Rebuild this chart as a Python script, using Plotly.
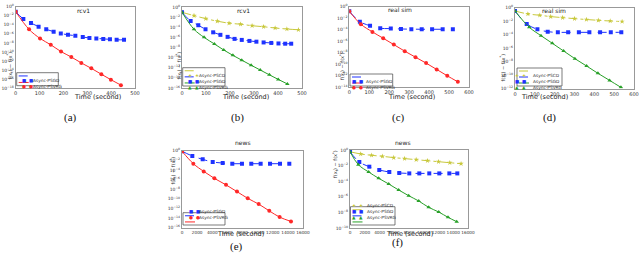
import plotly.graph_objects as go

W, H = 640, 261

# ---------------- data (log10 of objective gap) ----------------
# (a) rcv1
a_gd_t = [0, 32, 64, 96, 128, 159, 189, 219, 250, 281, 309, 338, 367, 395, 423, 454]
a_gd_y = [-1.1, -2.7, -3.6, -4.4, -5.0, -5.5, -5.9, -6.2, -6.4, -6.7, -6.9, -7.0, -7.1, -7.2, -7.3, -7.3]
a_vr_t = [0, 56, 102, 147, 190, 233, 275, 317, 359, 399, 441]
a_vr_y = [-1.1, -5.0, -7.0, -8.4, -9.9, -11.1, -12.4, -13.6, -14.9, -16.1, -17.3]
# (b) rcv1
b_cd_t = [0, 50, 99, 147, 196, 244, 292, 340, 388, 437, 485]
b_cd_y = [-1.05, -1.7, -2.3, -2.8, -3.2, -3.4, -3.7, -3.9, -4.15, -4.35, -4.5]
b_gd_t = [0, 36, 68, 98, 130, 160, 190, 219, 249, 281, 310, 340, 372, 402, 430, 455]
b_gd_y = [-1.05, -2.77, -3.6, -4.4, -5.0, -5.5, -5.9, -6.3, -6.5, -6.7, -6.85, -7.0, -7.1, -7.2, -7.25, -7.25]
b_vr_t = [0, 50, 92, 135, 174, 212, 249, 288, 326, 364, 401, 439]
b_vr_y = [-1.05, -4.4, -6.0, -7.3, -8.5, -9.55, -10.5, -11.5, -12.45, -13.4, -14.3, -15.2]
# (c) real sim
c_gd_t = [0, 53, 104, 155, 208, 259, 311, 363, 415, 468, 519]
c_gd_y = [-0.8, -2.6, -3.3, -3.75, -3.8, -3.87, -3.9, -3.92, -3.92, -3.92, -3.92]
c_vr_t = [0, 58, 116, 170, 223, 278, 332, 385, 438, 491, 544]
c_vr_y = [-0.8, -3.05, -4.38, -5.48, -6.58, -7.73, -8.77, -9.8, -10.9, -12.0, -13.05]
# (d) real sim
d_cd_t = [0, 65, 125, 180, 240, 300, 360, 420, 480, 540]
d_cd_y = [-0.52, -0.96, -1.15, -1.35, -1.5, -1.65, -1.78, -1.9, -2.0, -2.08]
d_gd_t = [0, 59, 113, 165, 216, 268, 322, 375, 429, 483, 536]
d_gd_y = [-0.52, -2.44, -3.23, -3.58, -3.68, -3.68, -3.68, -3.68, -3.68, -3.68, -3.68]
d_vr_t = [0, 72, 131, 188, 245, 302, 361, 418, 477, 534]
d_vr_y = [-0.52, -2.93, -4.17, -5.3, -6.44, -7.58, -8.67, -9.75, -10.8, -11.83]
# (e) news
e_gd_t = [0, 1365, 2735, 4060, 5380, 6650, 7930, 9160, 10400, 11640, 12960, 14190]
e_gd_y = [-0.1, -1.1, -1.8, -2.35, -2.56, -2.7, -2.7, -2.7, -2.7, -2.7, -2.7, -2.7]
e_vr_t = [0, 1500, 2870, 4280, 5820, 7270, 8690, 10140, 11540, 12910, 14410]
e_vr_y = [-0.1, -2.7, -4.3, -5.75, -7.1, -8.5, -9.9, -11.1, -12.5, -13.8, -14.7]
# (f) news
f_cd_t = [0, 1450, 2930, 4400, 5930, 7400, 8970, 10500, 12000, 13530, 15060]
f_cd_y = [-0.22, -0.51, -0.68, -0.81, -0.98, -1.1, -1.24, -1.37, -1.5, -1.63, -1.76]
f_gd_t = [0, 1265, 2620, 3970, 5330, 6680, 8040, 9400, 10750, 12110, 13470, 14550]
f_gd_y = [-0.22, -1.54, -2.14, -2.56, -2.82, -2.95, -3.0, -3.0, -3.0, -3.0, -3.0, -3.0]
f_vr_t = [0, 1130, 2530, 3890, 5250, 6600, 7960, 9320, 10670, 12030, 13290, 14470]
f_vr_y = [-0.22, -1.88, -2.82, -3.63, -4.36, -5.13, -5.86, -6.54, -7.35, -7.95, -8.63, -9.19]

names = {"cd": "Async-PSCD", "gd": "Async-PSGD", "vr": "Async-PSVRG"}
panel_titles = ["rcv1", "rcv1", "real sim", "real sim", "news", "news"]
panel_labels = ["(a)", "(b)", "(c)", "(d)", "(e)", "(f)"]
x_ranges = [[0, 500], [0, 500], [0, 600], [0, 600], [0, 16000], [0, 16000]]
x_dticks = [100, 100, 100, 100, 2000, 2000]
x_tick_sizes = [5, 5, 5, 5, 4.2, 4.2]
y_ranges = [[-18, 0], [-16, 0], [-14, 0], [-12, 0], [-16, 0], [-10, 0]]
x_title = "Time (second)"
y_title = "f(x<sub>t</sub>) − f(x<sup>*</sup>)"

# ---------------- layout geometry (pixels) ----------------
boxes = [  # x0, x1, ytop, ybottom
    (15.7, 135, 6.7, 88.3),
    (182, 302, 7, 88),
    (349.3, 469, 6.7, 87.3),
    (515, 634, 7.5, 88.5),
    (182, 303, 150.7, 227.7),
    (350, 468, 150, 228),
]
legend_boxes = [  # x0, x1, y0, y1
    (16.7, 58.3, 72.7, 85.7),
    (182.7, 225, 67.7, 86),
    (350, 392.7, 74, 86),
    (517, 562, 68, 86),
    (183, 225, 212.7, 225),
    (350.5, 395, 206.7, 225),
]
title_pos = [(75, 4.5), (243, 4.5), (400, 4), (568, 4.5), (243, 142), (403, 142)]
xtitle_pos = [(72, 97), (245, 97), (411, 97), (570, 97), (240, 240), (409, 240)]
ytitle_pos = [(4, 50), (173, 50), (342, 50), (508, 52), (167, 187), (335, 180)]
label_pos = [(62, 117), (237, 117), (398, 117), (558, 117), (236, 255), (397, 251)]

style = {
    "cd": dict(color="#c8c83c", symbol="star", dash="dashdot", glyph="★"),
    "gd": dict(color="#1e32ff", symbol="square", dash="dash", glyph="■"),
    "vr_red": dict(color="#ff2828", symbol="circle", dash="solid", glyph="●"),
    "vr_green": dict(color="#28a028", symbol="triangle-up", dash="solid", glyph="▲"),
}

panels = [
    [("gd", a_gd_t, a_gd_y, "gd"), ("vr", a_vr_t, a_vr_y, "vr_red")],
    [("cd", b_cd_t, b_cd_y, "cd"), ("gd", b_gd_t, b_gd_y, "gd"), ("vr", b_vr_t, b_vr_y, "vr_green")],
    [("gd", c_gd_t, c_gd_y, "gd"), ("vr", c_vr_t, c_vr_y, "vr_red")],
    [("cd", d_cd_t, d_cd_y, "cd"), ("gd", d_gd_t, d_gd_y, "gd"), ("vr", d_vr_t, d_vr_y, "vr_green")],
    [("gd", e_gd_t, e_gd_y, "gd"), ("vr", e_vr_t, e_vr_y, "vr_red")],
    [("cd", f_cd_t, f_cd_y, "cd"), ("gd", f_gd_t, f_gd_y, "gd"), ("vr", f_vr_t, f_vr_y, "vr_green")],
]

fig = go.Figure()
layout = dict(width=W, height=H, margin=dict(l=0, r=0, t=0, b=0, autoexpand=False),
              paper_bgcolor="white", plot_bgcolor="white", showlegend=False,
              font=dict(family="DejaVu Sans", color="#333"))
annotations = []
shapes = []


def P(x, y):
    return x / W, 1 - y / H


for i, series in enumerate(panels):
    k = i + 1
    sx = "" if k == 1 else str(k)
    x0, x1, yt, yb = boxes[i]
    for key, t, y, st in series:
        s = style[st]
        fig.add_trace(go.Scatter(
            x=t, y=[10 ** v for v in y], name=names[key],
            mode="lines+markers", line=dict(color=s["color"], width=1, dash=s["dash"], shape="spline"),
            marker=dict(color=s["color"], symbol=s["symbol"], size=4),
            xaxis="x" + sx, yaxis="y" + sx))
    lo, hi = y_ranges[i]
    exps = list(range(hi, lo - 1, -2))
    layout["xaxis" + sx] = dict(
        domain=[x0 / W, x1 / W], range=x_ranges[i], dtick=x_dticks[i], tick0=0, tickformat="d",
        anchor="y" + sx, showgrid=False, zeroline=False, showline=True, linecolor="#999",
        linewidth=1, mirror=True, ticks="", ticklen=0, tickangle=0, automargin=False,
        tickfont=dict(size=x_tick_sizes[i], color="#333"))
    layout["yaxis" + sx] = dict(
        domain=[1 - yb / H, 1 - yt / H], type="log", range=y_ranges[i],
        tickvals=[10.0 ** e for e in exps],
        ticktext=["10<sup>%s</sup>" % (str(e).replace("-", "−")) for e in exps],
        anchor="x" + sx, showgrid=False, zeroline=False, showline=True, linecolor="#999",
        linewidth=1, mirror=True, ticks="", ticklen=0, automargin=False,
        tickfont=dict(size=4.5, color="#333"))

    # titles / labels
    tx, ty = P(*title_pos[i])
    annotations.append(dict(text=panel_titles[i], x=tx, y=ty, xref="paper", yref="paper",
                            showarrow=False, font=dict(size=6, color="#222")))
    tx, ty = P(*xtitle_pos[i])
    annotations.append(dict(text=x_title, x=tx, y=ty, xref="paper", yref="paper",
                            showarrow=False, font=dict(size=6.5, color="#222")))
    tx, ty = P(*ytitle_pos[i])
    annotations.append(dict(text=y_title, x=tx, y=ty, xref="paper", yref="paper", textangle=-90,
                            showarrow=False, font=dict(size=5, color="#333")))
    tx, ty = P(*label_pos[i])
    annotations.append(dict(text=panel_labels[i], x=tx, y=ty, xref="paper", yref="paper",
                            showarrow=False, font=dict(size=11, family="Liberation Serif", color="#111")))

    # legend (box + sample line + glyphs + text)
    lx0, lx1, ly0, ly1 = legend_boxes[i]
    shapes.append(dict(type="rect", xref="paper", yref="paper",
                       x0=lx0 / W, x1=lx1 / W, y0=1 - ly1 / H, y1=1 - ly0 / H,
                       line=dict(color="#444", width=0.7), fillcolor="white", layer="above"))
    n = len(series)
    rowh = (ly1 - ly0) / n
    for j, (key, t, y, st) in enumerate(series):
        s = style[st]
        ry = ly0 + rowh * (j + 0.5)
        shapes.append(dict(type="line", xref="paper", yref="paper",
                           x0=(lx0 + 2) / W, x1=(lx0 + 12) / W, y0=1 - ry / H, y1=1 - ry / H,
                           line=dict(color=s["color"], width=1, dash=s["dash"]), layer="above"))
        for gx in (lx0 + 3.5, lx0 + 10.5):
            gxx, gyy = P(gx, ry)
            annotations.append(dict(text=s["glyph"], x=gxx, y=gyy, xref="paper", yref="paper",
                                    showarrow=False, font=dict(size=4.5, color=s["color"])))
        tx, ty = P(lx0 + 14, ry)
        annotations.append(dict(text=names[key], x=tx, y=ty, xref="paper", yref="paper",
                                xanchor="left", showarrow=False, font=dict(size=4.3, color="#333")))

layout["annotations"] = annotations
layout["shapes"] = shapes
fig.update_layout(**layout)
fig.write_html("out.html", config={"displayModeBar": False},
               post_script="document.body.style.margin='0';document.body.style.overflow='hidden';")
